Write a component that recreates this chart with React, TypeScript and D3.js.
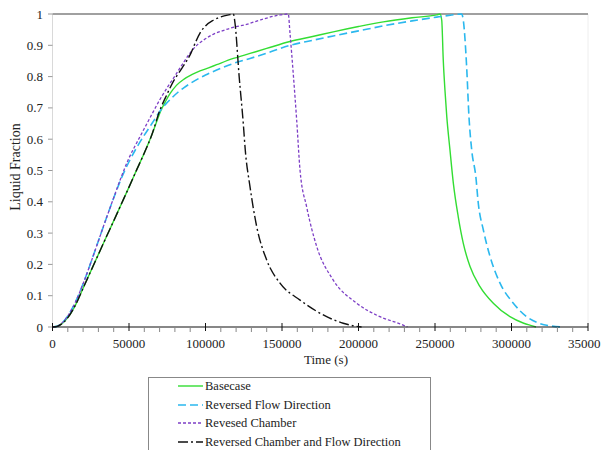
import React from "react";
import * as d3 from "d3";

const seriesNames = [
  "Basecase",
  "Reversed Flow Direction",
  "Revesed Chamber",
  "Reversed Chamber and Flow Direction",
];

const basecaseX = [0, 3000, 6000, 10000, 15000, 20000, 25000, 30000, 35000, 40000, 45000, 50000, 55000, 60000, 65000, 68000, 71000, 74000, 77000, 81000, 86000, 91000, 96400, 102000, 107300, 118200, 129100, 140000, 155200, 170000, 183500, 200000, 216200, 235000, 251100, 253300, 254400, 255400, 256500, 257700, 259800, 262000, 265200, 268500, 272900, 279400, 288100, 299000, 308000, 314200, 316000];
const basecaseY = [0, 0.002, 0.01, 0.03, 0.07, 0.124, 0.178, 0.232, 0.286, 0.339, 0.393, 0.447, 0.502, 0.556, 0.615, 0.655, 0.693, 0.722, 0.747, 0.772, 0.792, 0.806, 0.818, 0.828, 0.838, 0.858, 0.874, 0.89, 0.912, 0.928, 0.943, 0.96, 0.975, 0.988, 0.997, 1.0, 0.98, 0.853, 0.757, 0.672, 0.565, 0.459, 0.352, 0.267, 0.193, 0.129, 0.076, 0.033, 0.012, 0.003, 0];

const flowX = [0, 3000, 6000, 10000, 15000, 20000, 25000, 30000, 35000, 40000, 45000, 50000, 55000, 60000, 65000, 70000, 74000, 78000, 82000, 86000, 92000, 100000, 107300, 118200, 129100, 140000, 155200, 170000, 183500, 200000, 216200, 235000, 251100, 260000, 267400, 268500, 270700, 272200, 274000, 276700, 278300, 281600, 286000, 292500, 301200, 309900, 318000, 326000, 333900];
const flowY = [0, 0.002, 0.012, 0.035, 0.08, 0.138, 0.205, 0.275, 0.345, 0.412, 0.475, 0.528, 0.573, 0.613, 0.65, 0.688, 0.712, 0.732, 0.75, 0.765, 0.784, 0.805, 0.821, 0.842, 0.858, 0.875, 0.9, 0.916, 0.93, 0.946, 0.962, 0.978, 0.99, 0.996, 1.0, 0.98, 0.83, 0.672, 0.565, 0.48, 0.395, 0.31, 0.225, 0.14, 0.076, 0.033, 0.012, 0.003, 0];

const chamberX = [0, 3000, 6000, 10000, 15000, 20000, 25000, 30000, 35000, 40000, 45000, 50000, 55000, 60000, 65000, 70000, 75000, 80000, 85000, 90000, 95000, 100000, 105000, 112000, 118000, 126900, 137800, 148700, 154100, 155200, 157500, 159600, 161800, 166100, 172700, 183500, 198800, 214000, 227100, 232000];
const chamberY = [0, 0.002, 0.012, 0.035, 0.08, 0.138, 0.205, 0.275, 0.345, 0.413, 0.48, 0.54, 0.588, 0.634, 0.68, 0.725, 0.765, 0.802, 0.84, 0.876, 0.903, 0.921, 0.935, 0.948, 0.957, 0.967, 0.984, 0.997, 1.0, 0.94, 0.8, 0.661, 0.5, 0.384, 0.257, 0.15, 0.076, 0.033, 0.01, 0];

const bothX = [0, 3000, 6000, 10000, 15000, 20000, 25000, 30000, 35000, 40000, 45000, 50000, 55000, 60000, 65000, 70000, 75000, 79000, 83000, 87000, 90500, 93500, 96500, 100000, 105100, 109500, 116000, 118200, 119300, 122000, 124700, 126000, 129100, 133500, 140000, 148700, 161800, 179200, 190000, 198800, 202000];
const bothY = [0, 0.002, 0.01, 0.03, 0.07, 0.124, 0.178, 0.232, 0.286, 0.339, 0.393, 0.447, 0.502, 0.556, 0.615, 0.69, 0.745, 0.785, 0.815, 0.845, 0.875, 0.91, 0.94, 0.962, 0.98, 0.99, 0.998, 1.0, 0.97, 0.8, 0.65, 0.565, 0.448, 0.32, 0.214, 0.14, 0.086, 0.033, 0.012, 0.002, 0];

const xTicks = [0, 50000, 100000, 150000, 200000, 250000, 300000, 350000];
const xTickLabels = ["0", "50000", "100000", "150000", "200000", "250000", "300000", "35000"];
const yTicks = [0, 0.1, 0.2, 0.3, 0.4, 0.5, 0.6, 0.7, 0.8, 0.9, 1];
const yTickLabels = ["0", "0.1", "0.2", "0.3", "0.4", "0.5", "0.6", "0.7", "0.8", "0.9", "1"];

const styles = [
  { color: "#33dd33", dash: "none", width: 1.4 },
  { color: "#2bb8ee", dash: "8,4", width: 1.6 },
  { color: "#7d3fc6", dash: "3,2", width: 1.3 },
  { color: "#111111", dash: "10,3,2,3", width: 1.4 },
];

const FONT = "'Liberation Serif', 'Times New Roman', serif";

export default function App() {
  const W = 601, H = 450;
  const left = 52.5, right = 588, top = 14, bottom = 327;
  const x = d3.scaleLinear().domain([0, 350000]).range([left, right]);
  const y = d3.scaleLinear().domain([0, 1]).range([bottom, top]);
  const line = d3
    .line<[number, number]>()
    .x((d) => x(d[0]))
    .y((d) => y(d[1]))
    .curve(d3.curveMonotoneX);

  const data: [number, number][][] = [
    basecaseX.map((v, i) => [v, basecaseY[i]] as [number, number]),
    flowX.map((v, i) => [v, flowY[i]] as [number, number]),
    chamberX.map((v, i) => [v, chamberY[i]] as [number, number]),
    bothX.map((v, i) => [v, bothY[i]] as [number, number]),
  ];

  const minorTicks = d3.range(0, 350001, 10000).filter((v) => v % 50000 !== 0);

  const legendRows = [386, 405, 423, 442];

  return (
    <svg
      width={W}
      height={H}
      style={{ position: "absolute", left: 0, top: 0, background: "#fff" }}
      fontFamily={FONT}
    >
      <rect x={0} y={0} width={W} height={H} fill="#fff" />
      <line x1={right} x2={right} y1={top} y2={bottom} stroke="#eeeeee" strokeWidth={1} />
      <line x1={left} x2={left} y1={top} y2={bottom} stroke="#d9d9d9" strokeWidth={1} />
      {yTicks.map((t, i) => (
        <g key={"yt" + i}>
          <line x1={left - 4.5} x2={left} y1={y(t)} y2={y(t)} stroke="#999" strokeWidth={1} />
          <text x={43} y={y(t)} dy="0.35em" textAnchor="end" fontSize={13} fill="#222">
            {yTickLabels[i]}
          </text>
        </g>
      ))}
      <line x1={left} x2={right} y1={y(1)} y2={y(1)} stroke="#a0a0a0" strokeWidth={1.8} />
      {data.map((d, i) => (
        <path
          key={"s" + i}
          d={line(d) || ""}
          fill="none"
          stroke={styles[i].color}
          strokeWidth={styles[i].width}
          strokeDasharray={styles[i].dash}
        />
      ))}
      <line x1={left} x2={right} y1={bottom} y2={bottom} stroke="#111" strokeWidth={1.2} />
      {minorTicks.map((t) => (
        <line key={"mt" + t} x1={x(t)} x2={x(t)} y1={bottom} y2={bottom + 5} stroke="#888" strokeWidth={1} />
      ))}
      {xTicks.map((t, i) => (
        <g key={"xt" + i}>
          <line x1={x(t)} x2={x(t)} y1={bottom - 4} y2={bottom + 4} stroke="#111" strokeWidth={1} />
          <text
            x={i === xTicks.length - 1 ? 568 : x(t)}
            y={348}
            textAnchor={i === xTicks.length - 1 ? "start" : "middle"}
            fontSize={13}
            fill="#222"
          >
            {xTickLabels[i]}
          </text>
        </g>
      ))}
      <text x={326} y={364} textAnchor="middle" fontSize={13} fill="#222">
        Time (s)
      </text>
      <text
        transform={`translate(20,${167}) rotate(-90)`}
        textAnchor="middle"
        fontSize={14}
        fill="#222"
      >
        Liquid Fraction
      </text>
      <rect x={148.5} y={377.5} width={282} height={90} fill="#fff" stroke="#888" strokeWidth={1} />
      {seriesNames.map((name, i) => (
        <g key={"lg" + i}>
          <line
            x1={178}
            x2={203}
            y1={legendRows[i]}
            y2={legendRows[i]}
            stroke={styles[i].color}
            strokeWidth={styles[i].width}
            strokeDasharray={styles[i].dash}
          />
          <text x={205} y={legendRows[i]} dy="0.35em" fontSize={12.5} fill="#222">
            {name}
          </text>
        </g>
      ))}
    </svg>
  );
}
